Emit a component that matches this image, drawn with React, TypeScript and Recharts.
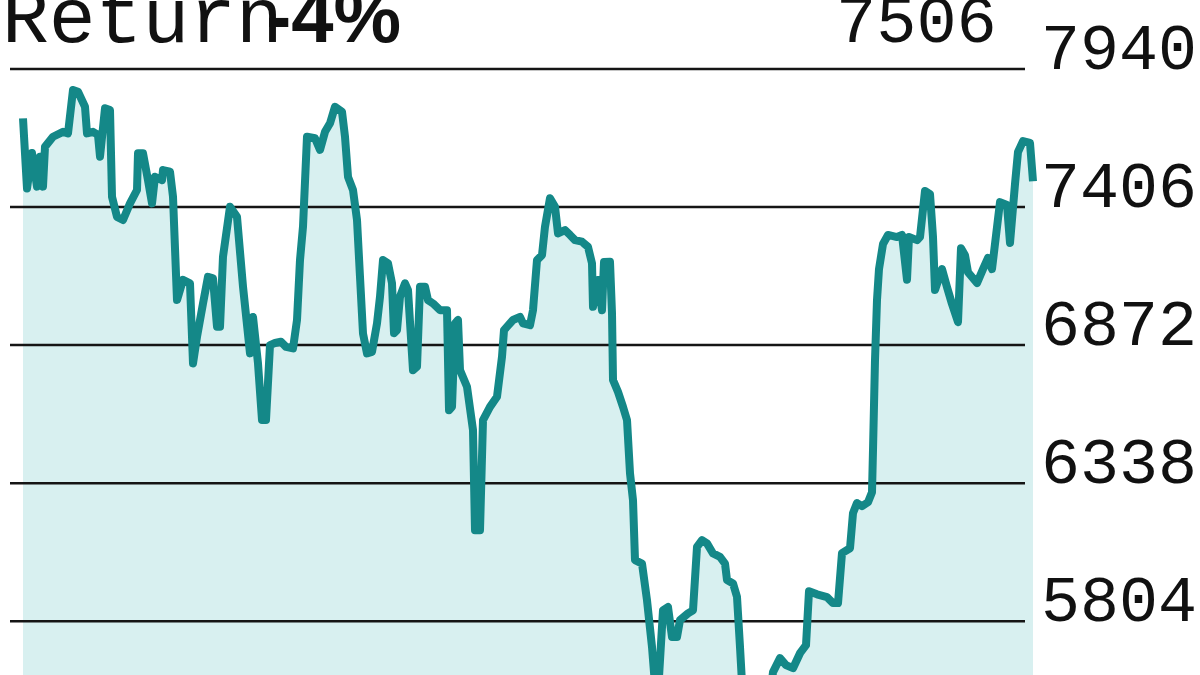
import React from 'react'
import { ComposedChart, Area, Line, XAxis, YAxis, CartesianGrid } from 'recharts'

// session index (position in the period) and closing level
const sessions = [
  0, 4, 9, 14, 17, 20, 22, 30, 40, 45, 50, 55, 62, 64, 70, 75, 77, 82, 87, 89,
  94, 100, 107, 114, 115, 120, 125, 129, 132, 139, 140, 147, 150, 154, 160, 167, 170, 174, 180, 185,
  190, 194, 197, 200, 207, 214, 220, 227, 230, 235, 239, 243, 247, 252, 258, 263, 270, 274, 277, 280,
  284, 292, 297, 302, 307, 312, 319, 322, 325, 330, 334, 337, 340, 344, 349, 354, 357, 360, 365, 369,
  371, 374, 377, 382, 385, 390, 394, 397, 402, 405, 410, 417, 424, 426, 429, 432, 435, 437, 444, 450,
  452, 457, 460, 467, 474, 479, 481, 490, 497, 500, 507, 510, 514, 519, 522, 527, 532, 535, 542, 547,
  552, 559, 565, 569, 570, 575, 579, 581, 587, 589, 590, 595, 600, 604, 607, 610, 612, 619, 624, 629,
  634, 640, 645, 649, 654, 657, 665, 670, 674, 679, 684, 690, 697, 702, 704, 710, 714, 717, 720, 727,
  737, 745, 750, 757, 763, 770, 777, 783, 786, 794, 804, 810, 815, 819, 827, 830, 834, 839, 845, 849,
  850, 852, 854, 856, 860, 865, 874, 879, 884, 886, 894, 897, 902, 907, 910, 912, 919, 924, 929, 935,
  938, 942, 945, 954, 960, 965, 969, 977, 984, 987, 992, 995, 1000, 1007, 1010,
]

const closes = [
  7749, 7478, 7615, 7485, 7601, 7485, 7639, 7678, 7697, 7691, 7859, 7852, 7794, 7691, 7697, 7685, 7601, 7788, 7781, 7446,
  7368, 7356, 7420, 7472, 7614, 7614, 7510, 7420, 7523, 7510, 7549, 7543, 7446, 7046, 7124, 7111, 6801, 6904, 7033, 7136,
  7130, 6943, 6943, 7214, 7407, 7368, 7098, 6840, 6981, 6801, 6582, 6582, 6872, 6880, 6885, 6865, 6859, 6969, 7201, 7330,
  7678, 7672, 7627, 7697, 7730, 7794, 7775, 7678, 7523, 7472, 7356, 7136, 6917, 6840, 6846, 6956, 7059, 7201, 7188, 7111,
  6918, 6930, 7059, 7111, 7085, 6775, 6788, 7098, 7098, 7046, 7033, 7007, 7007, 6620, 6633, 6956, 6969, 6775, 6711, 6543,
  6156, 6156, 6582, 6633, 6672, 6827, 6930, 6969, 6981, 6956, 6949, 7007, 7201, 7220, 7330, 7440, 7407, 7304, 7317, 7298,
  7278, 7272, 7252, 7188, 7020, 7124, 7007, 7193, 7194, 6995, 6737, 6691, 6633, 6582, 6376, 6272, 6040, 6027, 5885, 5704,
  5460, 5846, 5859, 5743, 5743, 5808, 5834, 5846, 6091, 6117, 6105, 6066, 6053, 6027, 5963, 5950, 5898, 5704, 5498, 5363,
  5343, 5440, 5607, 5661, 5634, 5622, 5680, 5711, 5920, 5908, 5897, 5874, 5874, 6067, 6086, 6222, 6261, 6249, 6264, 6303,
  6466, 6814, 7046, 7166, 7263, 7298, 7290, 7298, 7125, 7290, 7278, 7290, 7468, 7456, 7290, 7085, 7166, 7096, 7031, 6961,
  7247, 7220, 7154, 7112, 7166, 7209, 7166, 7425, 7414, 7267, 7495, 7619, 7661, 7654, 7506,
]

const levelTicks = [5270, 5804, 6338, 6872, 7406, 7940]

const title = 'Return'
const returnPct = '-4%'
const lastLevel = '7506'

const data = sessions.map((t, i) => ({ t, close: closes[i] }))

const MONO = '"Liberation Mono", "Courier New", monospace'
const TEAL = '#148888'
const W = 1200
const H = 829
const AXIS_W = 167
const MARGIN = { top: 53.5, right: 0, left: 23, bottom: 0 }

function LevelTick(props: any) {
  const { x, y, payload } = props
  return (
    <text x={x} y={y} textAnchor="start" fontFamily={MONO} fontSize={65} fill="#111">
      {payload.value}
    </text>
  )
}

// grid rules run a bit left of the series and stop short of its right end
function GridLine(props: any) {
  const { x1, x2, y1, y2 } = props
  if (y1 < MARGIN.top + 2) return <g key={props.key} />
  return <line key={props.key} x1={x1 - 13} x2={x2 - 8} y1={y1} y2={y2} stroke="#151515" strokeWidth={2.5} />
}

const layer: React.CSSProperties = { position: 'absolute', left: 0, top: 0 }

export default function App() {
  return (
    <div style={{ position: 'absolute', left: 0, top: 0, width: W, height: 675, overflow: 'hidden', background: '#fff' }}>
      {/* fill below the grid */}
      <div style={layer}>
        <ComposedChart width={W} height={H} data={data} margin={{ ...MARGIN, right: AXIS_W }}>
          <XAxis dataKey="t" type="number" domain={[0, 1010]} hide />
          <YAxis domain={[5000, 8000]} ticks={levelTicks} hide />
          <Area dataKey="close" type="linear" stroke="none" fill="#d8f0f0" fillOpacity={1} isAnimationActive={false} />
        </ComposedChart>
      </div>
      {/* grid, line and level labels on top */}
      <div style={layer}>
        <ComposedChart width={W} height={H} data={data} margin={MARGIN}>
          <XAxis dataKey="t" type="number" domain={[0, 1010]} hide />
          <YAxis
            orientation="right"
            width={AXIS_W}
            domain={[5000, 8000]}
            ticks={levelTicks}
            axisLine={false}
            tickLine={false}
            tick={<LevelTick />}
          />
          <CartesianGrid vertical={false} horizontalValues={levelTicks} horizontal={(p: any) => <GridLine {...p} />} />
          <Line dataKey="close" type="linear" stroke={TEAL} strokeWidth={8} strokeLinejoin="round" dot={false} isAnimationActive={false} />
        </ComposedChart>
      </div>
      <svg width={W} height={100} style={{ ...layer, pointerEvents: 'none' }}>
        <text x={2} y={42} fontFamily={MONO} fontSize={78} fill="#111">{title}</text>
        <text x={266} y={42} fontFamily='"Liberation Sans", Arial, sans-serif' fontWeight="bold" fontSize={76} fill="#111">{returnPct}</text>
        <text x={836} y={42} fontFamily={MONO} fontSize={67} fill="#111">{lastLevel}</text>
      </svg>
    </div>
  )
}
